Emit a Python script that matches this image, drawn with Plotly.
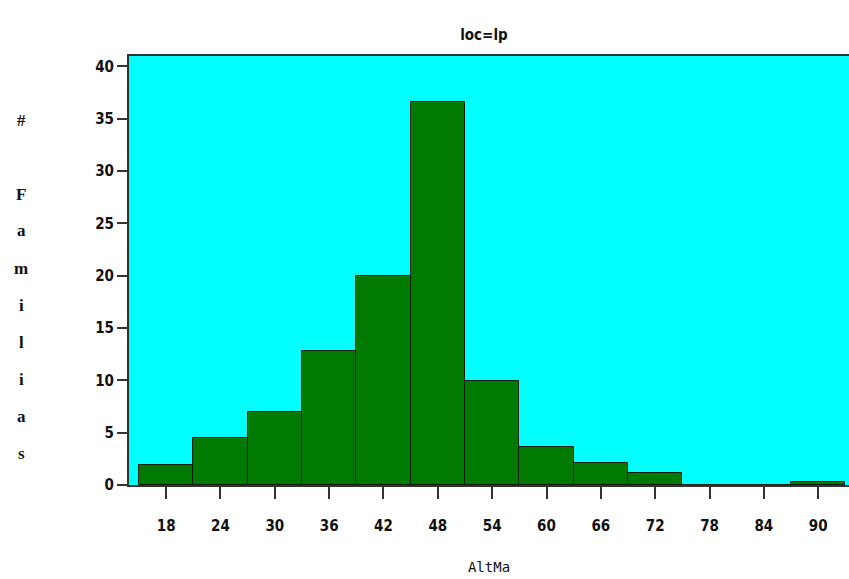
import plotly.graph_objects as go

# Data: bin midpoints of AltMa and percentage of families
bin_mid = [18, 24, 30, 36, 42, 48, 54, 60, 66, 72, 78, 84, 90]
pct_familias = [1.87, 4.49, 6.94, 12.8, 20.0, 36.6, 9.97, 3.59, 2.13, 1.11, 0, 0, 0.29]
y_ticks = [0, 5, 10, 15, 20, 25, 30, 35, 40]
y_label_chars = ["#", " ", "F", "a", "m", "i", "l", "i", "a", "s"]

fig = go.Figure()
fig.add_trace(go.Bar(
    x=bin_mid, y=pct_familias, width=6,
    marker=dict(color="#007a00", line=dict(color="#0a1a0a", width=1)),
    hoverinfo="x+y",
))

sans = "DejaVu Sans Condensed, Roboto, sans-serif"
tick_font = dict(family=sans, size=15, color="#111", weight="bold")

fig.update_layout(
    width=849, height=579,
    margin=dict(l=129, r=0, t=56, b=94, autoexpand=False),
    paper_bgcolor="white",
    plot_bgcolor="#00ffff",
    showlegend=False,
    bargap=0,
    title=dict(text="loc=lp", x=0.57, xanchor="center", y=1 - 35/579, yanchor="middle",
               font=dict(family=sans, size=15, color="#111", weight="bold")),
    xaxis=dict(
        range=[13.9, 93.4], tickvals=bin_mid, ticktext=[str(v) for v in bin_mid],
        ticks="outside", ticklen=12, tickwidth=2, tickcolor="#333",
        ticklabelstandoff=14,
        showline=True, linecolor="#333", linewidth=2, mirror=True, automargin=False,
        showgrid=False, zeroline=False, tickfont=tick_font,
        title=dict(text="AltMa", standoff=28,
                   font=dict(family="DejaVu Sans Mono", size=14, color="#111")),
    ),
    yaxis=dict(
        range=[0, 41], tickvals=y_ticks,
        ticks="outside", ticklen=10, tickwidth=2, tickcolor="#333",
        showline=True, linecolor="#333", linewidth=2, mirror=False, automargin=False,
        showgrid=False, zeroline=False, tickfont=tick_font,
    ),
)

# Vertical stacked y-axis label
top_px = 120
step_px = 37
for i, ch in enumerate(y_label_chars):
    if ch.strip() == "":
        continue
    ypix = top_px + i * step_px
    fig.add_annotation(
        text=ch, xref="paper", yref="paper",
        x=(21 - 129) / 720, y=(485 - ypix) / (485 - 56),
        xanchor="center", yanchor="middle", showarrow=False,
        font=dict(family="Liberation Serif", size=17, color="#111", weight="bold"),
    )

fig.write_html(
    "out.html",
    config={"displayModeBar": False},
    post_script="document.body.style.margin='0';document.body.style.overflow='hidden';",
)
